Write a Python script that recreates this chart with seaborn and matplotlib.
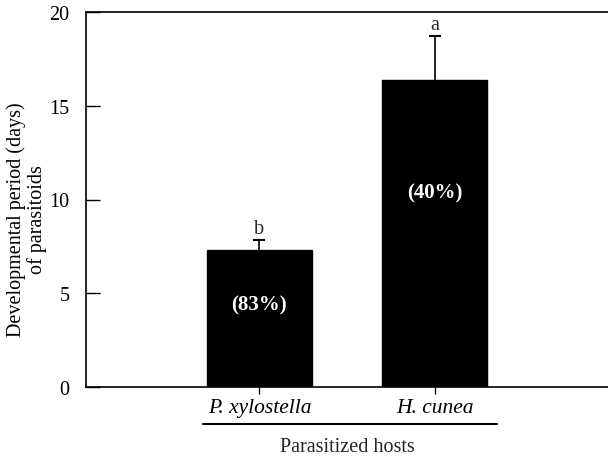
import matplotlib
matplotlib.use("Agg")
import matplotlib.pyplot as plt
import matplotlib.transforms as mtransforms
import seaborn as sns
import pandas as pd
import numpy as np

hosts = ["P. xylostella", "H. cunea"]
days = [7.33, 16.4]
errs = [0.5, 2.3]
letters = ["b", "a"]
pct = ["(83%)", "(40%)"]
pct_y = [4.4, 10.4]
yticks = [0, 5, 10, 15, 20]

sns.set_theme(style="white")
plt.rcParams["font.family"] = ["Liberation Serif", "DejaVu Serif"]

df = pd.DataFrame({"host": hosts, "days": days})

fig = plt.figure(figsize=(6.08, 4.6), dpi=100)
ax = fig.add_axes([86/608, (460-388)/460, 1 - 86/608, (388-13)/460])

sns.barplot(data=df, x="host", y="days", color="black", width=0.6,
            errorbar=None, ax=ax, saturation=1)
for p in ax.patches:
    p.set_edgecolor("black")

x = np.arange(len(hosts))
eb = ax.errorbar(x, days, yerr=[np.zeros(len(errs)), errs], fmt="none",
                 ecolor="black", elinewidth=1.2, capsize=4.5, capthick=1.5)
caps = eb.lines[1]
if len(caps) == 2:
    caps[0].set_visible(False)

for xi, d, e, l in zip(x, days, errs, letters):
    ax.text(xi, d + e + 0.1, l, ha="center", va="bottom", fontsize=14.5)
for xi, t, yy in zip(x, pct, pct_y):
    ax.text(xi, yy, t, ha="center", va="center", fontsize=15,
            fontweight="bold", color="white")

ax.set_ylim(0, 20)
ax.set_xlim(-0.99, 1.99)
ax.set_yticks(yticks)
ax.set_yticklabels([str(v) for v in yticks], fontsize=14.5)
ax.set_xticks(x)
ax.set_xticklabels(hosts, fontsize=15.5, fontstyle="italic")
ax.tick_params(axis="y", direction="in", length=10, width=1, left=True, pad=12, colors="black")
ax.tick_params(axis="x", direction="out", length=5, width=1, bottom=True, pad=3, colors="black")
ax.set_xlabel("")
ax.set_ylabel("Developmental period (days)\nof parasitoids", fontsize=14.5,
              linespacing=1.1, color="black", va="center", ha="center")
ax.yaxis.set_label_coords(-0.114, 0.45)

for s in ["left", "bottom", "top"]:
    ax.spines[s].set_visible(True)
    ax.spines[s].set_color("black")
    ax.spines[s].set_linewidth(1.2)
ax.spines["right"].set_visible(False)

trans = mtransforms.blended_transform_factory(ax.transData, ax.transAxes)
ax.plot([-0.32, 1.357], [-0.099, -0.099], color="black", lw=1.5,
        transform=trans, clip_on=False)
ax.text(0.5, -0.158, "Parasitized hosts", ha="center", va="center",
        fontsize=14.5, transform=trans)

fig.savefig("out.png", dpi=100)
